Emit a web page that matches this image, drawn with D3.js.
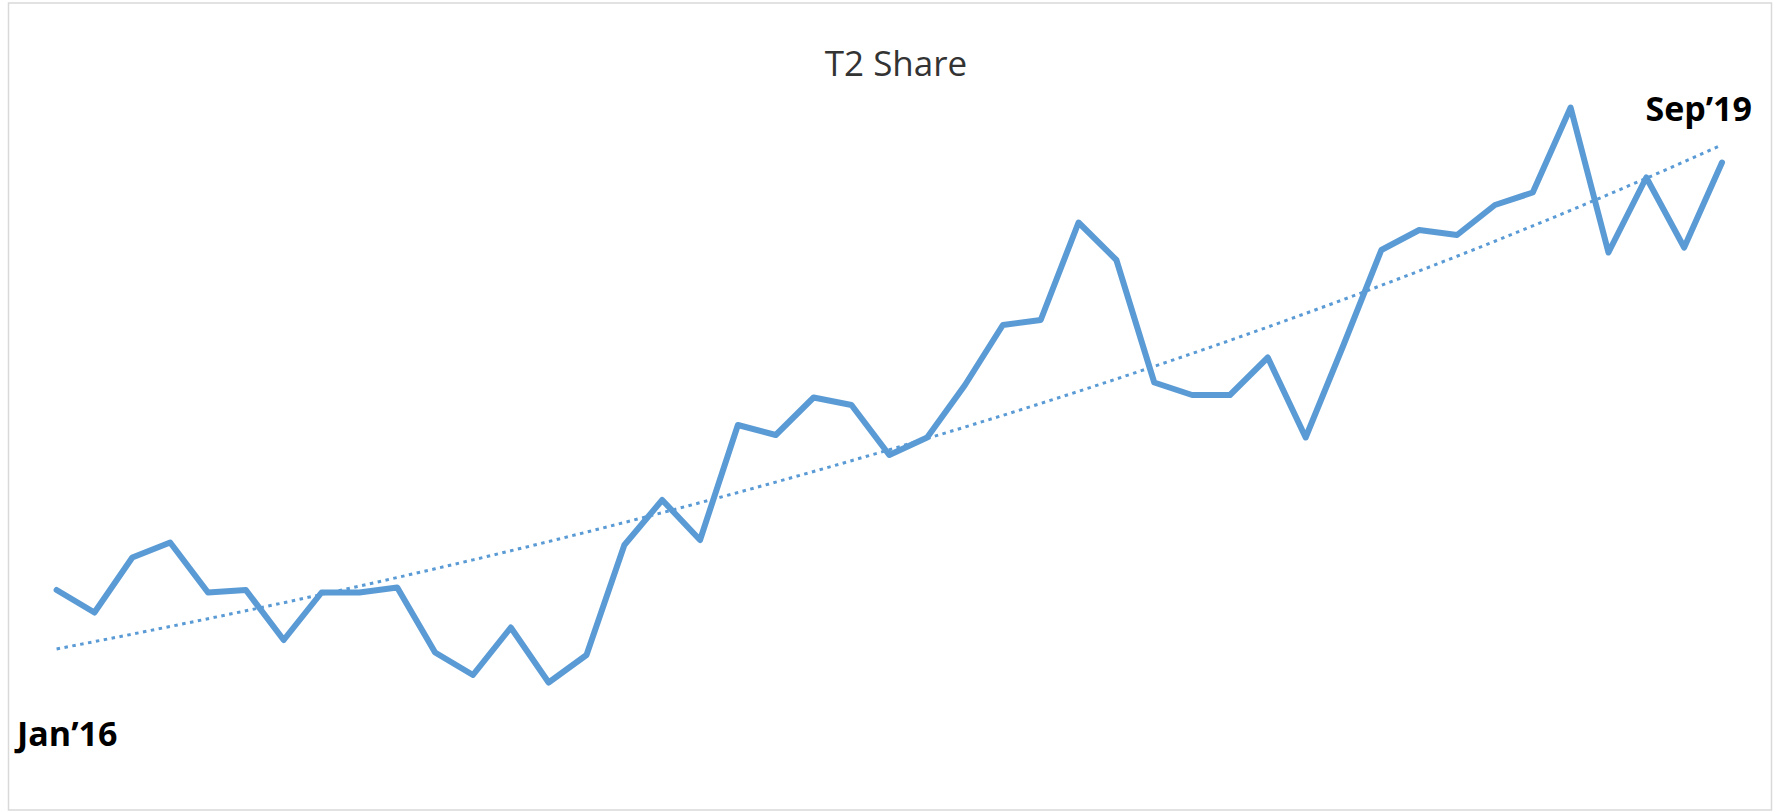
<!DOCTYPE html>
<html>
<head>
<meta charset="utf-8">
<script src="https://cdn.jsdelivr.net/npm/d3@7"></script>
<style>
  body { margin: 0; background: #fff; }
  svg { display: block; }
</style>
</head>
<body>
<svg width="1779" height="812"></svg>
<script>
// months Jan'16 .. Sep'19
const months = [];
const monthNames = ["Jan","Feb","Mar","Apr","May","Jun","Jul","Aug","Sep","Oct","Nov","Dec"];
for (let y = 16; y <= 19; y++) {
    for (let m = 0; m < 12; m++) {
        if (y == 19 && m > 8) break;
        months.push(monthNames[m] + "\u2019" + y);
    }
}

// T2 share (%)
const share = [
    17.4, 16.5, 18.7, 19.3, 17.3, 17.4, 15.4, 17.3, 17.3, 17.5,
    14.9, 14.0, 15.9, 13.7, 14.8, 19.2, 21.0, 19.4, 24.0, 23.6,
    25.1, 24.8, 22.8, 23.5, 25.6, 28.0, 28.2, 32.1, 30.6, 25.7,
    25.2, 25.2, 26.7, 23.5, 27.2, 31.0, 31.8, 31.6, 32.8, 33.3,
    36.7, 30.9, 33.9, 31.1, 34.5
];

const endLabels = ["Jan\u201916", "Sep\u201919"];
const title = "T2 Share";

var width = 1779;
var height = 812;
var svg = d3.select("svg");

// chart area border
svg.append("rect")
    .attr("x", 8.5).attr("y", 3).attr("width", 1763).attr("height", 807)
    .attr("fill", "#fff")
    .attr("stroke", "#d9d9d9")
    .attr("stroke-width", 1.5);

svg.append("text")
    .attr("x", 896).attr("y", 76)
    .attr("text-anchor", "middle")
    .style("font-family", "'Open Sans', sans-serif")
    .style("font-size", "35px")
    .style("font-weight", "500")
    .attr("fill", "#333")
    .text(title);

var x = d3.scalePoint()
    .domain(months)
    .range([56.6, 1722]);

var y = d3.scaleLinear()
    .domain([10, 40])
    .range([775, 25]);

// exponential trendline, least squares on ln(y) like excel
let n = share.length, sx = 0, sy = 0, sxx = 0, sxy = 0;
for (let i = 0; i < n; i++) {
    let ly = Math.log(share[i]);
    sx += i; sy += ly; sxx += i * i; sxy += i * ly;
}
let b = (n * sxy - sx * sy) / (n * sxx - sx * sx);
let a = (sy - b * sx) / n;
let trend = share.map((d, i) => Math.exp(a + b * i));

var line = d3.line()
    .x((d, i) => x(months[i]))
    .y(d => y(d));

svg.append("path")
    .datum(trend)
    .attr("d", line)
    .attr("fill", "none")
    .attr("stroke", "#5b9bd5")
    .attr("stroke-width", 3)
    .attr("stroke-dasharray", "3.5,4.5");

svg.append("path")
    .datum(share)
    .attr("d", line)
    .attr("fill", "none")
    .attr("stroke", "#5b9bd5")
    .attr("stroke-width", 6)
    .attr("stroke-linejoin", "round")
    .attr("stroke-linecap", "round");

svg.append("text")
    .attr("x", 17).attr("y", 746)
    .style("font-family", "'Open Sans', sans-serif")
    .style("font-weight", "bold")
    .style("font-size", "34px")
    .attr("fill", "#000")
    .text(endLabels[0]);

svg.append("text")
    .attr("x", 1752).attr("y", 121)
    .attr("text-anchor", "end")
    .style("font-family", "'Open Sans', sans-serif")
    .style("font-weight", "bold")
    .style("font-size", "34px")
    .attr("fill", "#000")
    .text(endLabels[1]);
</script>
</body>
</html>
